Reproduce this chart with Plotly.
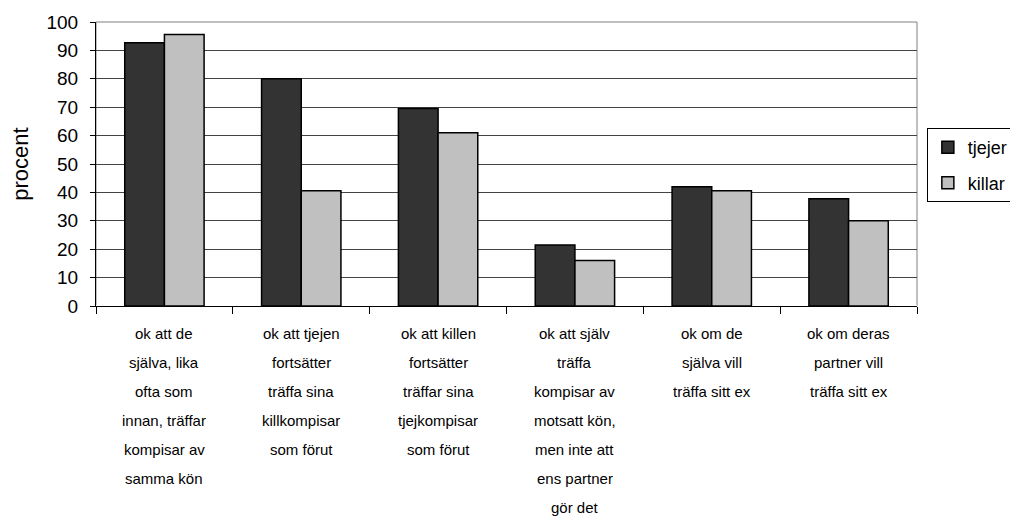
import plotly.graph_objects as go

# category labels, one list of lines per category
categories = ["c1", "c2", "c3", "c4", "c5", "c6"]
label_lines = [
    ["ok att de", "själva, lika", "ofta som", "innan, träffar", "kompisar av", "samma kön"],
    ["ok att tjejen", "fortsätter", "träffa sina", "killkompisar", "som förut"],
    ["ok att killen", "fortsätter", "träffar sina", "tjejkompisar", "som förut"],
    ["ok att själv", "träffa", "kompisar av", "motsatt kön,", "men inte att", "ens partner", "gör det"],
    ["ok om de", "själva vill", "träffa sitt ex"],
    ["ok om deras", "partner vill", "träffa sitt ex"],
]
tjejer = [92.7, 80, 69.5, 21.5, 42, 37.8]
killar = [95.6, 40.6, 61, 16, 40.6, 30]

font = "Liberation Sans, Arial, sans-serif"

fig = go.Figure()
fig.add_trace(go.Bar(x=categories, y=tjejer, name="tjejer", legendgroup="a",
                     marker=dict(color="#333333", line=dict(color="black", width=1.5))))
fig.add_trace(go.Bar(x=categories, y=killar, name="killar", legendgroup="b",
                     marker=dict(color="#c0c0c0", line=dict(color="black", width=1.5))))

# multi-line x labels with wide line spacing
for cat, lines in zip(categories, label_lines):
    for i, line in enumerate(lines):
        fig.add_annotation(x=cat, xref="x", y=0, yref="paper", text=line,
                           showarrow=False, yanchor="middle", yshift=-27 - i * 29,
                           font=dict(family=font, size=15, color="black"))

# page has an 8px body margin, so the figure is 8px smaller than the window
fig.update_layout(
    width=1010, height=518,
    paper_bgcolor="white", plot_bgcolor="white",
    margin=dict(l=88, r=101, t=14, b=220, autoexpand=False),
    barmode="group", bargap=0.42, bargroupgap=0,
    font=dict(family=font, color="black"),
    legend=dict(x=1.012, xanchor="left", y=0.496, yanchor="middle",
                bordercolor="black", borderwidth=1, tracegroupgap=9,
                font=dict(family=font, size=18, color="black")),
    xaxis=dict(showticklabels=False, tickson="boundaries", ticks="outside",
               ticklen=7, tickcolor="black", showline=True, linecolor="black",
               linewidth=1, showgrid=False, automargin=False),
    yaxis=dict(range=[0, 100], dtick=10, ticks="outside", ticklen=5,
               tickcolor="black", showline=True, linecolor="black", linewidth=1,
               gridcolor="#444444", gridwidth=1, ticklabelstandoff=8,
               automargin=False,
               tickfont=dict(family=font, size=19, color="black"),
               title=dict(text="procent", standoff=29,
                          font=dict(family=font, size=22, color="black"))),
)
# top and right frame in gray
fig.add_shape(type="rect", xref="paper", yref="paper", x0=0, x1=1, y0=0, y1=1,
              line=dict(color="#808080", width=1), layer="below")

fig.write_html("out.html")
